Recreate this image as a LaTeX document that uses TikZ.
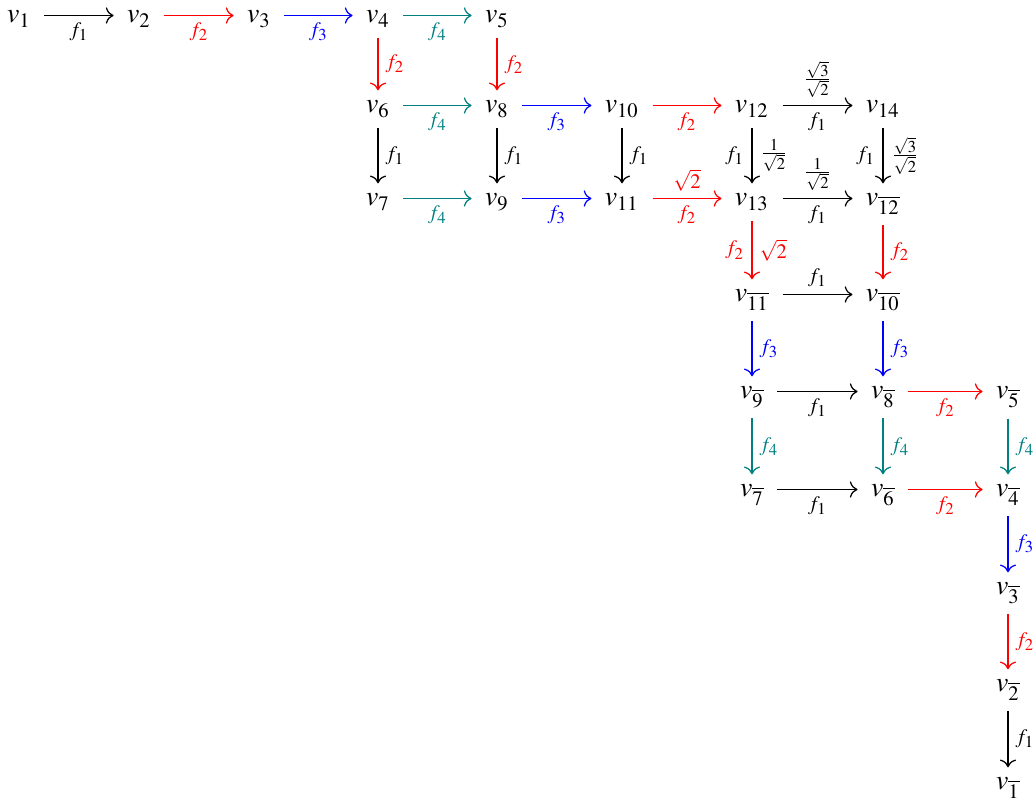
\documentclass[tikz,border=0pt]{standalone}
\usepackage{mathptmx}
\usepackage{xcolor}
\usetikzlibrary{cd}
\definecolor{tealc}{rgb}{0,0.5,0.5}
\newcommand{\axh}{2.7pt}
\newcommand{\hconn}[4]{\draw[->,#1] ([yshift=\axh]#2.base east) -- ([yshift=\axh]#3.base west) #4;}
\begin{document}
\begin{tikzpicture}[x=0.36pt,y=-0.36pt,
  vx/.style={anchor=base, inner xsep=4.6pt, inner ysep=3.6pt},
  lb/.style={inner sep=2.5pt},
  >={cm to}, line width=0.45pt]
\useasboundingbox (0,0) rectangle (1035,808);
% nodes
\node[vx] (v1) at (19,23) {$v_1$};
\node[vx] (v2) at (139,23) {$v_2$};
\node[vx] (v3) at (259,23) {$v_3$};
\node[vx] (v4) at (378,23) {$v_4$};
\node[vx] (v5) at (497,23) {$v_5$};
\node[vx] (v6) at (378,113) {$v_6$};
\node[vx] (v8) at (497,113) {$v_8$};
\node[vx] (v10) at (622,113) {$v_{10}$};
\node[vx] (v12) at (752,113) {$v_{12}$};
\node[vx] (v14) at (883,113) {$v_{14}$};
\node[vx] (v7) at (378,206) {$v_7$};
\node[vx] (v9) at (497,206) {$v_9$};
\node[vx] (v11) at (622,206) {$v_{11}$};
\node[vx] (v13) at (752,206) {$v_{13}$};
\node[vx] (w12) at (883,206) {$v_{\overline{12}}$};
\node[vx] (w11) at (752,302) {$v_{\overline{11}}$};
\node[vx] (w10) at (883,302) {$v_{\overline{10}}$};
\node[vx] (w9) at (752,399) {$v_{\overline{9}}$};
\node[vx] (w8) at (883,399) {$v_{\overline{8}}$};
\node[vx] (w5) at (1008,399) {$v_{\overline{5}}$};
\node[vx] (w7) at (752,497) {$v_{\overline{7}}$};
\node[vx] (w6) at (883,497) {$v_{\overline{6}}$};
\node[vx] (w4) at (1008,497) {$v_{\overline{4}}$};
\node[vx] (w3) at (1008,595) {$v_{\overline{3}}$};
\node[vx] (w2) at (1008,692) {$v_{\overline{2}}$};
\node[vx] (w1) at (1008,790) {$v_{\overline{1}}$};
% horizontal connectors
\hconn{black}{v1}{v2}{node[midway,below,lb]{$\scriptstyle f_1$}}
\hconn{red}{v2}{v3}{node[midway,below,lb]{$\scriptstyle f_2$}}
\hconn{blue}{v3}{v4}{node[midway,below,lb]{$\scriptstyle f_3$}}
\hconn{tealc}{v4}{v5}{node[midway,below,lb]{$\scriptstyle f_4$}}
\hconn{tealc}{v6}{v8}{node[midway,below,lb]{$\scriptstyle f_4$}}
\hconn{blue}{v8}{v10}{node[midway,below,lb]{$\scriptstyle f_3$}}
\hconn{red}{v10}{v12}{node[midway,below,lb]{$\scriptstyle f_2$}}
\hconn{black}{v12}{v14}{node[midway,above,lb]{$\scriptstyle \frac{\sqrt{3}}{\sqrt{2}}$} node[midway,below,lb]{$\scriptstyle f_1$}}
\hconn{tealc}{v7}{v9}{node[midway,below,lb]{$\scriptstyle f_4$}}
\hconn{blue}{v9}{v11}{node[midway,below,lb]{$\scriptstyle f_3$}}
\hconn{red}{v11}{v13}{node[midway,above,lb]{$\scriptstyle \sqrt{2}$} node[midway,below,lb]{$\scriptstyle f_2$}}
\hconn{black}{v13}{w12}{node[midway,above,lb]{$\scriptstyle \frac{1}{\sqrt{2}}$} node[midway,below,lb]{$\scriptstyle f_1$}}
\hconn{black}{w11}{w10}{node[midway,above,lb]{$\scriptstyle f_1$}}
\hconn{black}{w9}{w8}{node[midway,below,lb]{$\scriptstyle f_1$}}
\hconn{red}{w8}{w5}{node[midway,below,lb]{$\scriptstyle f_2$}}
\hconn{black}{w7}{w6}{node[midway,below,lb]{$\scriptstyle f_1$}}
\hconn{red}{w6}{w4}{node[midway,below,lb]{$\scriptstyle f_2$}}
% vertical connectors
\draw[->,red] (v4) -- (v6) node[midway,right,lb]{$\scriptstyle f_2$};
\draw[->,red] (v5) -- (v8) node[midway,right,lb]{$\scriptstyle f_2$};
\draw[->] (v6) -- (v7) node[midway,right,lb]{$\scriptstyle f_1$};
\draw[->] (v8) -- (v9) node[midway,right,lb]{$\scriptstyle f_1$};
\draw[->] (v10) -- (v11) node[midway,right,lb]{$\scriptstyle f_1$};
\draw[->] (v12) -- (v13) node[midway,left,lb]{$\scriptstyle f_1$} node[midway,right,lb]{$\scriptstyle \frac{1}{\sqrt{2}}$};
\draw[->] (v14) -- (w12) node[midway,left,lb]{$\scriptstyle f_1$} node[midway,right,lb]{$\scriptstyle \frac{\sqrt{3}}{\sqrt{2}}$};
\draw[->,red] (v13) -- (w11) node[midway,left,lb]{$\scriptstyle f_2$} node[midway,right,lb]{$\scriptstyle \sqrt{2}$};
\draw[->,red] (w12) -- (w10) node[midway,right,lb]{$\scriptstyle f_2$};
\draw[->,blue] (w11) -- (w9) node[midway,right,lb]{$\scriptstyle f_3$};
\draw[->,blue] (w10) -- (w8) node[midway,right,lb]{$\scriptstyle f_3$};
\draw[->,tealc] (w9) -- (w7) node[midway,right,lb]{$\scriptstyle f_4$};
\draw[->,tealc] (w8) -- (w6) node[midway,right,lb]{$\scriptstyle f_4$};
\draw[->,tealc] (w5) -- (w4) node[midway,right,lb]{$\scriptstyle f_4$};
\draw[->,blue] (w4) -- (w3) node[midway,right,lb]{$\scriptstyle f_3$};
\draw[->,red] (w3) -- (w2) node[midway,right,lb]{$\scriptstyle f_2$};
\draw[->] (w2) -- (w1) node[midway,right,lb]{$\scriptstyle f_1$};
\end{tikzpicture}
\end{document}
